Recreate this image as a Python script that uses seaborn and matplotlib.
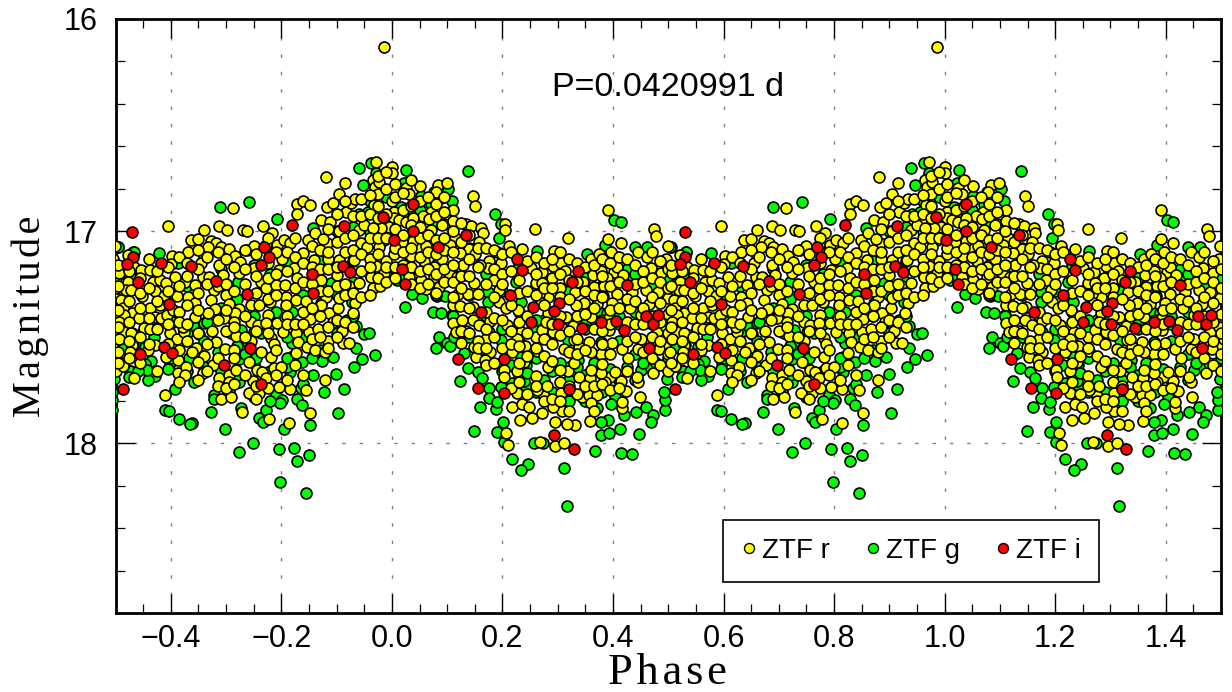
import numpy as np
import pandas as pd
import matplotlib
matplotlib.use('Agg')
import matplotlib.pyplot as plt
import seaborn as sns
from matplotlib.lines import Line2D
from matplotlib.ticker import MultipleLocator, FixedLocator

# folded light curve, values as (phase, magnitude)

period_text = "P=0.0420991 d"
band_names = ["ZTF r", "ZTF g", "ZTF i"]
band_colors = ["#ffff00", "#00ff00", "#ff0000"]

ztf_g = [
    (-0.311,16.884),(-0.258,16.863),(-0.207,16.942),(-0.060,16.703),(-0.038,16.681),(0.026,16.710),(-0.053,16.783),
    (0.022,16.772),(-0.422,17.102),(-0.496,17.074),(-0.143,16.984),(-0.279,17.239),(-0.298,17.253),(0.023,17.356),
    (0.037,17.298),(-0.050,17.487),(-0.041,17.479),(-0.065,17.447),(-0.082,17.419),(-0.065,17.553),(-0.031,17.584),
    (-0.054,17.603),(-0.068,17.642),(-0.086,17.743),(-0.101,17.675),(-0.142,17.680),(-0.106,17.592),(-0.126,17.611),
    (-0.123,17.758),(-0.097,17.859),(-0.148,17.915),(-0.196,17.934),(-0.150,18.057),(-0.172,18.083),(-0.177,18.022),
    (-0.205,18.027),(-0.202,18.184),(-0.155,18.234),(-0.252,17.999),(-0.277,18.039),(-0.301,17.931),(-0.362,17.903),
    (-0.366,17.911),(-0.386,17.884),(-0.411,17.843),(-0.404,17.846),(-0.392,17.746),(-0.328,17.854),(-0.321,17.772),
    (-0.321,17.793),(-0.273,17.835),(-0.240,17.882),(-0.234,17.898),(-0.227,17.843),(-0.210,17.772),(-0.198,17.796),
    (-0.202,17.812),(-0.165,17.741),(-0.172,17.793),(-0.163,17.820),(-0.184,17.662),(-0.163,17.619),(-0.183,17.592),
    (-0.428,17.683),(-0.441,17.702),(-0.474,17.658),(-0.476,17.689),(-0.436,17.611),(-0.447,17.626),(-0.443,17.655),
    (-0.402,17.623),(-0.358,17.710),(-0.367,17.600),(-0.314,17.568),(-0.261,17.521),(-0.276,17.604),(-0.276,17.710),
    (-0.294,17.752),(-0.237,17.482),(-0.249,17.474),(-0.291,17.482),(-0.273,17.466),(-0.360,17.443),(-0.340,17.435),
    (-0.349,17.485),(-0.396,17.427),(-0.429,17.450),(-0.463,17.490),(-0.447,17.545),(-0.181,17.380),(-0.181,17.529),
    (-0.128,17.341),(-0.110,17.246),(-0.079,17.278),(-0.073,17.333),(-0.059,16.917),(-0.044,16.909),(-0.014,17.042),
    (0.010,17.231),(0.017,16.885),(-0.029,16.728),(-0.339,17.121),(-0.387,17.152),(-0.467,17.097),(-0.472,17.215),
    (0.138,16.716),(0.102,16.799),(0.088,16.846),(0.076,16.815),(0.108,16.859),(0.071,16.870),(0.052,16.834),
    (0.187,16.920),(0.197,16.967),(0.194,17.031),(0.262,17.093),(0.191,17.097),(0.402,16.948),(0.414,16.956),
    (0.385,17.066),(0.353,17.108),(0.440,17.077),(0.462,17.077),(0.428,17.174),(0.437,17.215),(0.505,17.074),
    (0.532,17.097),(0.055,17.314),(0.082,17.306),(0.097,17.306),(0.074,17.380),(0.089,17.388),(0.109,17.396),
    (0.174,17.286),(0.174,17.333),(0.224,17.239),(0.233,17.333),(0.085,17.498),(0.080,17.553),(0.100,17.529),
    (0.105,17.540),(0.131,17.573),(0.112,17.498),(0.137,17.647),(0.155,17.663),(0.163,17.694),(0.124,17.706),
    (0.176,17.741),(0.197,17.733),(0.217,17.714),(0.243,17.730),(0.239,17.705),(0.175,17.788),(0.159,17.831),
    (0.188,17.840),(0.191,17.804),(0.201,17.898),(0.149,17.942),(0.190,17.948),(0.202,17.992),(0.218,18.075),
    (0.247,18.097),(0.234,18.126),(0.257,18.000),(0.274,18.000),(0.312,18.115),(0.316,18.295),(0.368,18.035),
    (0.415,18.047),(0.435,18.050),(0.447,17.956),(0.413,17.934),(0.378,17.961),(0.393,17.950),(0.391,17.890),
    (0.372,17.832),(0.378,17.898),(0.404,17.783),(0.396,17.815),(0.420,17.867),(0.442,17.851),(0.460,17.831),
    (0.472,17.868),(0.468,17.898),(0.494,17.843),(0.494,17.796),(0.493,17.760),(0.498,17.699),(0.526,17.658),
    (0.451,17.655),(0.469,17.647),(0.478,17.623),(0.464,17.584),(0.321,17.702),(0.337,17.608),(0.378,17.521),
    (0.318,17.513),(0.233,17.592),(0.242,17.631),(0.197,17.513),(0.176,17.474),(0.276,17.419),(0.378,17.388),
    (0.390,17.388),(0.523,17.466),
    # the ones mostly hidden inside the crowd
    (-0.49,17.30),(-0.49,17.55),(-0.46,17.38),(-0.46,17.66),(-0.43,17.24),(-0.43,17.50),(-0.40,17.30),(-0.40,17.60),
    (-0.37,17.26),(-0.37,17.48),(-0.37,17.66),(-0.34,17.22),(-0.34,17.52),(-0.34,17.64),(-0.31,17.18),(-0.31,17.36),
    (-0.31,17.66),(-0.31,17.70),(-0.28,17.32),(-0.28,17.54),(-0.28,17.68),(-0.25,17.16),(-0.25,17.40),(-0.25,17.62),
    (-0.25,17.78),(-0.22,17.20),(-0.22,17.44),(-0.22,17.66),(-0.22,17.80),(-0.19,17.14),(-0.19,17.50),(-0.19,17.64),
    (-0.16,17.30),(-0.16,17.50),(-0.16,17.72),(-0.13,17.14),(-0.13,17.40),(-0.13,17.56),(-0.10,17.00),(-0.10,17.30),
    (-0.10,17.48),(-0.07,16.98),(-0.07,17.14),(-0.07,17.24),(-0.07,17.40),(-0.04,16.86),(-0.04,17.00),(-0.04,17.20),
    (-0.01,16.84),(-0.01,17.00),(-0.01,17.20),(0.02,16.92),(0.02,17.06),(0.02,17.22),(0.05,16.90),(0.05,17.00),
    (0.05,17.24),(0.08,16.96),(0.08,17.16),(0.08,17.30),(0.11,17.04),(0.11,17.20),(0.11,17.40),(0.14,17.08),
    (0.14,17.30),(0.14,17.50),(0.17,17.20),(0.17,17.40),(0.17,17.60),(0.20,17.28),(0.20,17.46),(0.20,17.66),
    (0.23,17.16),(0.23,17.38),(0.23,17.50),(0.23,17.68),(0.26,17.26),(0.26,17.46),(0.26,17.60),(0.26,17.76),
    (0.29,17.22),(0.29,17.48),(0.29,17.66),(0.29,17.76),(0.32,17.28),(0.32,17.42),(0.32,17.64),(0.32,17.80),
    (0.35,17.22),(0.35,17.44),(0.35,17.68),(0.35,17.80),(0.38,17.26),(0.38,17.42),(0.38,17.58),(0.38,17.76),
    (0.41,17.20),(0.41,17.40),(0.41,17.52),(0.41,17.70),(0.44,17.20),(0.44,17.38),(0.44,17.58),(0.44,17.70),
    (0.47,17.26),(0.47,17.44),(0.47,17.56),(0.50,17.22),(0.50,17.42),(0.50,17.60),
    (0.215,17.63),(0.245,17.67),(0.275,17.70),(0.305,17.62),(0.335,17.64),(0.365,17.62),(0.395,17.65),(0.425,17.64),
    (0.455,17.62),(-0.265,17.58),(-0.245,17.60),(-0.19,17.60),(-0.145,17.60),(-0.35,17.58),(-0.405,17.65),(-0.335,17.43),
    (-0.21,17.38),(0.26,17.42),(0.35,17.46),(0.41,17.44),
]

ztf_r = [
    (-0.014,16.132),(-0.493,17.199),(-0.490,17.325),(-0.487,17.364),(-0.484,17.396),(-0.493,17.427),(-0.484,17.474),
    (-0.472,17.482),(-0.493,17.510),(-0.496,17.568),(-0.471,17.537),(-0.474,17.568),(-0.487,17.636),(-0.466,17.694),
    (-0.478,17.113),(-0.466,17.168),(-0.454,17.181),(-0.478,17.239),(-0.481,17.278),(-0.472,17.278),(-0.457,17.411),
    (-0.448,17.458),(-0.437,17.184),(-0.433,17.242),(-0.420,17.231),(-0.408,17.243),(-0.452,17.305),(-0.428,17.283),
    (-0.413,17.305),(-0.437,17.360),(-0.420,17.349),(-0.438,17.462),(-0.428,17.403),(-0.417,17.411),(-0.407,17.396),
    (-0.428,17.537),(-0.441,17.561),(-0.417,17.160),(-0.405,16.976),(-0.411,17.772),(-0.398,17.118),(-0.399,17.157),
    (-0.392,17.215),(-0.389,17.306),(-0.396,17.372),(-0.402,17.479),(-0.389,17.507),(-0.376,17.474),(-0.378,17.451),
    (-0.408,17.592),(-0.387,17.608),(-0.387,17.670),(-0.372,17.639),(-0.375,17.678),(-0.368,17.097),(-0.363,17.042),
    (-0.350,17.039),(-0.375,17.239),(-0.357,17.254),(-0.368,17.309),(-0.357,17.341),(-0.356,17.403),(-0.342,17.215),
    (-0.345,17.152),(-0.330,17.215),(-0.339,16.995),(-0.312,16.976),(-0.298,16.995),(-0.287,16.893),(-0.327,17.046),
    (-0.318,17.055),(-0.332,17.077),(-0.310,17.074),(-0.294,17.082),(-0.313,17.160),(-0.306,17.207),(-0.321,17.278),
    (-0.327,17.325),(-0.300,17.301),(-0.294,17.344),(-0.320,17.369),(-0.333,17.388),(-0.304,17.411),(-0.325,17.469),
    (-0.318,17.521),(-0.354,17.553),(-0.362,17.568),(-0.339,17.589),(-0.350,17.615),(-0.342,17.667),(-0.324,17.631),
    (-0.301,17.557),(-0.312,17.694),(-0.294,17.678),(-0.282,17.655),(-0.310,17.790),(-0.291,17.782),(-0.294,17.710),
    (-0.259,17.765),(-0.271,17.851),(-0.284,17.118),(-0.274,17.144),(-0.276,17.199),(-0.270,16.995),(-0.263,16.998),
    (-0.262,17.089),(-0.250,17.071),(-0.249,17.176),(-0.237,17.242),(-0.276,17.367),(-0.283,17.388),(-0.285,17.427),
    (-0.282,17.495),(-0.255,17.430),(-0.243,17.443),(-0.254,17.349),(-0.240,17.349),(-0.228,17.270),(-0.225,17.396),
    (-0.220,17.336),(-0.227,17.435),(-0.207,17.435),(-0.218,17.506),(-0.214,17.532),(-0.197,17.474),(-0.237,17.568),
    (-0.254,17.517),(-0.258,17.615),(-0.219,17.595),(-0.244,17.655),(-0.235,17.663),(-0.214,17.647),(-0.228,17.694),
    (-0.201,17.639),(-0.251,17.705),(-0.240,17.765),(-0.205,17.733),(-0.185,17.746),(-0.155,17.749),(-0.222,17.887),
    (-0.186,17.903),(-0.148,17.859),(-0.233,16.976),(-0.216,17.011),(-0.228,17.066),(-0.207,17.066),(-0.196,17.042),
    (-0.184,17.058),(-0.199,17.132),(-0.205,17.181),(-0.177,17.176),(-0.172,17.223),(-0.209,17.254),(-0.193,17.254),
    (-0.191,17.309),(-0.191,17.349),(-0.173,17.325),(-0.193,17.403),(-0.156,17.328),(-0.148,17.416),(-0.173,17.482),
    (-0.170,17.521),(-0.154,17.545),(-0.174,17.573),(-0.150,17.474),(-0.133,17.462),(-0.139,17.561),(-0.121,17.568),
    (-0.115,17.517),(-0.172,16.870),(-0.161,16.857),(-0.148,16.878),(-0.172,16.920),(-0.160,17.105),(-0.152,17.042),
    (-0.141,17.137),(-0.139,17.011),(-0.128,16.948),(-0.117,17.058),(-0.125,17.035),(-0.115,17.133),(-0.112,16.959),
    (-0.117,16.885),(-0.106,16.867),(-0.096,16.823),(-0.085,16.775),(-0.119,16.744),(-0.128,17.231),(-0.120,17.309),
    (-0.128,17.349),(-0.113,17.388),(-0.107,17.427),(-0.097,17.364),(-0.095,17.317),(-0.100,17.207),(-0.095,17.137),
    (-0.095,17.000),(-0.083,16.909),(-0.074,16.867),(-0.067,16.849),(-0.077,17.259),(-0.068,17.137),(-0.060,17.246),
    (-0.067,17.338),(-0.071,17.388),(-0.091,17.469),(-0.088,17.529),(-0.078,17.529),(-0.121,17.702),(-0.060,16.995),
    (-0.050,16.972),(-0.055,17.058),(-0.045,17.074),(-0.033,16.878),(-0.035,16.760),(-0.029,16.675),(-0.031,16.794),
    (-0.025,16.823),(-0.023,16.768),(0.000,16.697),(0.001,16.728),(0.025,16.796),(0.031,16.827),(0.000,16.857),
    (0.004,16.909),(0.004,16.940),(0.013,16.948),(0.025,16.956),(-0.006,16.980),(-0.020,16.983),(-0.035,16.983),
    (-0.023,17.074),(-0.011,17.140),(0.004,17.108),(-0.029,17.163),(-0.014,17.199),(-0.038,17.215),(-0.035,17.267),
    (-0.021,17.257),(0.031,17.113),(0.034,17.050),(0.046,17.074),(0.046,17.223),(0.031,17.215),
    (0.051,16.788),(0.083,16.783),(0.099,16.775),(0.079,16.815),(0.070,16.909),(0.057,16.929),(0.067,16.945),
    (0.094,16.964),(0.111,16.901),(0.111,16.951),(0.146,16.834),(0.151,16.881),(0.134,16.967),(0.144,16.976),
    (0.161,16.987),(0.164,17.011),(0.204,16.967),(0.205,16.995),(0.259,16.992),(0.319,17.031),(0.391,16.898),
    (0.391,17.035),(0.414,17.055),(0.396,17.097),(0.474,16.992),(0.478,17.024),(0.499,17.069),(0.445,17.097),
    (0.461,17.124),(0.496,17.133),(0.360,17.129),(0.374,17.108),(0.294,17.093),(0.304,17.097),(0.236,17.082),
    (0.211,17.071),(0.039,16.940),(0.071,16.995),(0.091,16.972),(0.115,17.030),(0.106,17.066),(0.061,17.071),
    (0.039,17.046),(0.019,17.050),(0.140,17.082),(0.123,17.102),(0.158,17.050),(0.150,17.108),(0.176,17.140),
    (0.173,17.176),(0.160,17.160),(0.197,17.149),(0.128,17.160),(0.091,17.129),(0.076,17.171),(0.059,17.140),
    (0.034,17.118),(0.052,17.228),(0.077,17.218),(0.103,17.199),(0.118,17.218),(0.149,17.246),(0.184,17.231),
    (0.061,17.275),(0.085,17.262),(0.120,17.294),(0.137,17.294),(0.155,17.297),(0.193,17.278),(0.194,17.333),
    (0.206,17.364),(0.111,17.349),(0.124,17.353),(0.147,17.356),(0.228,17.372),(0.177,17.422),(0.146,17.419),
    (0.111,17.435),(0.126,17.419),(0.208,17.443),(0.116,17.474),(0.135,17.471),(0.158,17.443),(0.234,17.477),
    (0.125,17.526),(0.170,17.509),(0.149,17.545),(0.177,17.568),(0.152,17.595),(0.169,17.608),(0.218,17.571),
    (0.241,17.540),(0.227,17.510),(0.202,17.655),(0.203,17.686),(0.239,17.619),(0.227,17.659),(0.260,17.683),
    (0.226,17.761),(0.217,17.827),(0.235,17.816),(0.248,17.827),(0.231,17.890),(0.253,17.879),(0.271,17.859),
    (0.276,17.777),(0.262,17.749),(0.280,17.730),(0.207,17.953),(0.210,18.008),(0.268,17.992),(0.295,18.013),
    (0.312,17.997),(0.295,17.898),(0.331,17.914),(0.316,17.909),(0.307,17.849),(0.292,17.827),(0.306,17.765),
    (0.344,17.783),(0.357,17.772),(0.372,17.774),(0.360,17.812),(0.358,17.895),(0.417,17.835),(0.417,17.804),
    (0.423,17.752),(0.448,17.780),(0.445,17.710),(0.443,17.686),(0.414,17.705),(0.395,17.686),(0.385,17.710),
    (0.359,17.694),(0.339,17.689),(0.318,17.658),(0.304,17.655),(0.282,17.639),(0.379,17.670),(0.361,17.655),
    (0.404,17.663),(0.472,17.670),(0.513,17.636),(0.428,17.600),(0.445,17.557),(0.416,17.556),(0.379,17.579),
    (0.360,17.568),(0.380,17.628),(0.329,17.623),(0.312,17.557),(0.330,17.513),(0.339,17.545),(0.357,17.521),
    (0.262,17.565),(0.260,17.498),(0.272,17.466),(0.292,17.477),(0.399,17.526),(0.393,17.466),(0.451,17.510),
    (0.495,17.545),(0.484,17.557),(0.506,17.509),(0.529,17.482),(0.531,17.537),(0.480,17.477),(0.251,17.176),
    (0.271,17.192),(0.289,17.220),(0.292,17.165),(0.306,17.152),(0.314,17.187),(0.260,17.246),(0.272,17.243),
    (0.304,17.270),(0.283,17.309),(0.266,17.298),(0.282,17.388),(0.269,17.341),(0.332,17.286),(0.345,17.239),
    (0.363,17.207),(0.379,17.187),(0.402,17.192),(0.407,17.168),(0.390,17.223),(0.365,17.265),(0.384,17.259),
    (0.382,17.305),(0.407,17.294),(0.434,17.289),(0.419,17.207),(0.348,17.338),(0.334,17.349),(0.372,17.345),
    (0.398,17.338),(0.431,17.364),(0.361,17.403),(0.328,17.447),(0.393,17.411),(0.279,17.427),(0.315,17.403),
    (0.468,17.176),(0.486,17.196),(0.510,17.195),(0.466,17.344),(0.451,17.393),(0.481,17.286),(0.460,17.278),
    (0.527,17.254),(0.499,17.317),(0.514,17.356),(0.529,17.388),(0.496,17.451),
    # rough estimates for the crowded middle, single circles can't be told apart there
    (-0.495,17.16),(-0.495,17.26),(-0.495,17.37),(-0.495,17.45),(-0.495,17.62),(-0.475,17.19),(-0.475,17.33),(-0.475,17.43),
    (-0.475,17.52),(-0.475,17.60),(-0.455,17.22),(-0.455,17.29),(-0.455,17.36),(-0.455,17.50),(-0.455,17.62),(-0.44,17.13),
    (-0.44,17.27),(-0.44,17.41),(-0.44,17.53),(-0.425,17.19),(-0.425,17.33),(-0.425,17.46),
    (-0.425,17.66),(-0.405,17.17),(-0.405,17.28),(-0.405,17.44),(-0.405,17.53),(-0.385,17.12),(-0.385,17.26),
    (-0.385,17.38),(-0.385,17.43),(-0.385,17.56),(-0.385,17.71),(-0.37,17.15),(-0.37,17.21),(-0.37,17.35),(-0.37,17.44),
    (-0.37,17.52),(-0.35,17.09),(-0.35,17.18),(-0.35,17.29),(-0.35,17.37),(-0.35,17.48),
    (-0.35,17.70),(-0.335,17.12),(-0.335,17.25),(-0.335,17.53),(-0.335,17.66),(-0.315,17.10),(-0.315,17.26),
    (-0.315,17.42),(-0.315,17.60),(-0.315,17.73),(-0.30,17.13),(-0.30,17.25),(-0.30,17.37),(-0.30,17.47),
    (-0.30,17.74),(-0.285,17.17),(-0.285,17.28),(-0.285,17.45),(-0.285,17.56),(-0.285,17.60),(-0.285,17.72),(-0.265,17.09),
    (-0.265,17.18),(-0.265,17.25),(-0.265,17.40),(-0.265,17.50),(-0.265,17.68),(-0.245,17.11),(-0.245,17.21),
    (-0.245,17.29),(-0.245,17.47),(-0.245,17.73),(-0.245,17.79),(-0.225,17.03),(-0.225,17.15),(-0.225,17.22),
    (-0.225,17.32),(-0.225,17.48),(-0.225,17.74),(-0.21,17.10),(-0.21,17.20),(-0.21,17.30),
    (-0.21,17.56),(-0.21,17.68),(-0.19,17.10),(-0.19,17.19),(-0.19,17.40),(-0.19,17.44),(-0.19,17.70),
    (-0.175,17.03),(-0.175,17.12),(-0.175,17.27),(-0.175,17.44),(-0.175,17.63),(-0.16,17.15),(-0.16,17.24),
    (-0.16,17.38),(-0.16,17.44),(-0.16,17.68),(-0.145,17.07),(-0.145,17.17),(-0.145,17.25),(-0.145,17.36),
    (-0.145,17.51),(-0.13,17.09),(-0.13,17.18),(-0.13,17.28),(-0.13,17.40),(-0.13,17.50),
    (-0.115,16.99),(-0.115,17.10),(-0.115,17.18),(-0.115,17.28),(-0.115,17.45),(-0.115,17.55),(-0.10,16.92),(-0.10,17.05),
    (-0.10,17.17),(-0.10,17.26),(-0.10,17.42),(-0.10,17.50),(-0.085,16.86),(-0.085,17.03),(-0.085,17.10),(-0.085,17.25),
    (-0.085,17.30),(-0.085,17.43),(-0.07,16.93),(-0.07,17.02),(-0.07,17.09),(-0.07,17.29),(-0.07,17.45),
    (-0.055,16.85),(-0.055,16.93),(-0.055,17.11),(-0.055,17.19),(-0.055,17.31),(-0.04,16.83),(-0.04,16.92),(-0.04,17.03),
    (-0.04,17.13),(-0.04,17.17),(-0.04,17.30),(-0.025,16.74),(-0.025,16.88),(-0.025,16.94),(-0.025,17.03),(-0.025,17.11),
    (-0.025,17.22),(-0.01,16.72),(-0.01,16.80),(-0.01,16.92),(-0.01,17.03),(-0.01,17.17),(-0.01,17.24),
    (0.005,16.78),(0.005,16.84),(0.005,16.99),(0.005,17.08),(0.005,17.17),(0.005,17.22),(0.02,16.82),(0.02,16.90),
    (0.02,17.02),(0.02,17.10),(0.02,17.16),(0.035,16.76),(0.035,16.88),(0.035,16.97),(0.035,17.08),(0.035,17.17),
    (0.035,17.25),(0.05,16.86),(0.05,16.98),(0.05,17.03),(0.05,17.12),(0.05,17.19),(0.05,17.27),(0.065,16.84),
    (0.065,17.02),(0.065,17.10),(0.065,17.18),(0.065,17.25),(0.08,16.87),(0.08,16.93),(0.08,17.04),(0.08,17.11),
    (0.08,17.20),(0.08,17.29),(0.095,16.84),(0.095,16.91),(0.095,17.03),(0.095,17.09),(0.095,17.18),(0.095,17.24),
    (0.11,17.00),(0.11,17.10),(0.11,17.16),(0.11,17.24),(0.11,17.31),(0.125,16.96),(0.125,17.05),(0.125,17.21),
    (0.125,17.27),(0.125,17.47),(0.14,17.02),(0.14,17.13),(0.14,17.21),(0.14,17.36),(0.14,17.48),
    (0.155,17.08),(0.155,17.17),(0.155,17.52),(0.155,17.55),(0.17,17.08),(0.17,17.25),(0.17,17.38),
    (0.17,17.46),(0.17,17.55),(0.17,17.63),(0.185,17.09),(0.185,17.18),(0.185,17.31),(0.185,17.41),(0.185,17.50),
    (0.185,17.62),(0.20,17.11),(0.20,17.20),(0.20,17.25),(0.20,17.42),(0.20,17.55),
    (0.215,17.10),(0.215,17.19),(0.215,17.35),(0.215,17.47),(0.215,17.53),(0.215,17.74),(0.23,17.23),
    (0.23,17.29),(0.23,17.43),(0.23,17.54),(0.23,17.62),(0.23,17.71),(0.245,17.14),(0.245,17.28),(0.245,17.40),
    (0.245,17.48),(0.245,17.59),(0.245,17.77),(0.26,17.12),(0.26,17.20),(0.26,17.30),
    (0.26,17.55),(0.26,17.73),(0.275,17.15),(0.275,17.27),(0.275,17.35),(0.275,17.51),(0.275,17.59),
    (0.275,17.80),(0.29,17.13),(0.29,17.27),(0.29,17.44),(0.29,17.53),(0.29,17.61),
    (0.29,17.79),(0.305,17.20),(0.305,17.31),(0.305,17.40),(0.305,17.49),(0.305,17.71),(0.305,17.80),
    (0.32,17.13),(0.32,17.23),(0.32,17.32),(0.32,17.47),(0.32,17.57),(0.32,17.73),(0.32,17.85),
    (0.335,17.15),(0.335,17.24),(0.335,17.40),(0.335,17.51),(0.335,17.58),(0.335,17.77),(0.35,17.17),
    (0.35,17.28),(0.35,17.39),(0.35,17.56),(0.35,17.73),(0.365,17.16),(0.365,17.30),
    (0.365,17.36),(0.365,17.46),(0.365,17.73),(0.365,17.85),(0.38,17.13),(0.38,17.21),(0.38,17.31),
    (0.38,17.47),(0.38,17.53),(0.38,17.72),(0.395,17.15),(0.395,17.26),(0.395,17.37),(0.395,17.44),(0.395,17.58),
    (0.395,17.75),(0.41,17.12),(0.41,17.24),(0.41,17.36),(0.41,17.74),
    (0.425,17.13),(0.425,17.32),(0.425,17.43),(0.425,17.52),(0.425,17.66),(0.44,17.16),(0.44,17.25),
    (0.44,17.33),(0.44,17.44),(0.44,17.50),(0.455,17.19),(0.455,17.24),(0.455,17.36),(0.455,17.44),
    (0.455,17.57),(0.47,17.10),(0.47,17.22),(0.47,17.31),(0.47,17.40),(0.47,17.50),(0.47,17.60),
    (0.485,17.14),(0.485,17.24),(0.485,17.34),(0.485,17.43),(0.485,17.52),(0.485,17.63),(0.50,17.18),(0.50,17.27),
    (0.50,17.39),(0.50,17.48),(0.50,17.58),(0.50,17.66),
]

ztf_i = [
    (-0.470,17.006),(-0.469,17.124),(-0.479,17.157),(-0.417,17.149),(-0.364,17.165),(-0.460,17.242),(-0.318,17.236),
    (-0.263,17.294),(-0.404,17.344),(-0.231,17.077),(-0.223,17.124),(-0.237,17.159),(-0.180,16.973),(-0.145,17.203),
    (-0.142,17.290),(-0.089,17.165),(-0.076,17.193),(-0.086,16.976),(-0.016,16.932),(0.038,16.873),(0.038,17.000),
    (0.003,17.044),(0.018,17.179),(0.024,17.248),(-0.455,17.578),(-0.412,17.546),(-0.398,17.575),(-0.256,17.553),
    (-0.303,17.630),(-0.236,17.722),(-0.487,17.744),(0.083,17.077),(0.135,17.020),(0.227,17.133),(0.235,17.181),
    (0.214,17.300),(0.256,17.356),(0.161,17.382),(0.251,17.430),(0.303,17.339),(0.294,17.377),(0.301,17.440),
    (0.344,17.458),(0.336,17.187),(0.326,17.239),(0.379,17.429),(0.406,17.424),(0.420,17.465),(0.425,17.253),
    (0.459,17.399),(0.472,17.440),(0.482,17.393),(0.466,17.550),(0.120,17.604),(0.203,17.601),
    (0.156,17.738),(0.202,17.763),(0.320,17.746),(0.294,17.961),(0.329,18.027),
]

x_major = [-0.4, -0.2, 0.0, 0.2, 0.4, 0.6, 0.8, 1.0, 1.2, 1.4]
y_major = [16, 17, 18]


def fold(points, name):
    # the phase is shown twice, so every point comes back one cycle later
    df = pd.DataFrame(points, columns=['phase', 'mag'])
    parts = [df.assign(phase=df['phase'] + shift) for shift in (-1, 0, 1)]
    out = pd.concat(parts, ignore_index=True)
    out['band'] = name
    return out


sns.set_style("white")
plt.rcParams['font.family'] = ['Liberation Sans', 'DejaVu Sans']
plt.rcParams['text.color'] = 'black'
plt.rcParams['xtick.color'] = 'black'
plt.rcParams['ytick.color'] = 'black'

fig = plt.figure(figsize=(12.32, 6.92), dpi=100)
ax = fig.add_axes([115.5 / 1232, 1 - 613 / 692, 1105.5 / 1232, 594 / 692])

# green goes under yellow, red stays on top
draw_order = [(ztf_g, 1), (ztf_r, 0), (ztf_i, 2)]
for pts, idx in draw_order:
    sns.scatterplot(data=fold(pts, band_names[idx]), x='phase', y='mag', color=band_colors[idx],
                    edgecolor='black', linewidth=1.2, s=62, zorder=3, clip_on=True, legend=False, ax=ax)

ax.set_xlim(-0.5, 1.5)
ax.set_ylim(18.8, 16)
ax.xaxis.set_major_locator(FixedLocator(x_major))
ax.xaxis.set_minor_locator(MultipleLocator(0.05))
ax.yaxis.set_major_locator(FixedLocator(y_major))
ax.yaxis.set_minor_locator(MultipleLocator(0.2))
ax.tick_params(which='major', direction='in', top=True, right=True, bottom=True, left=True,
               length=13.5, width=1.0, labelsize=22, pad=8)
ax.tick_params(which='minor', direction='in', top=True, right=True, bottom=True, left=True,
               length=6.5, width=0.9)
ax.tick_params(axis='y', which='major', pad=13)
ax.grid(True, which='major', color='#808080', linewidth=1.0, linestyle=(0, (2.5, 10)))
ax.set_axisbelow(True)
for side in ax.spines.values():
    side.set_linewidth(2.0)
    side.set_color('black')

ax.set_xlabel('')
ax.set_ylabel('')
fig.text(667 / 1232, 1 - 673 / 692, 'P\u200ah\u200aa\u200as\u200ae', family=['Liberation Serif', 'DejaVu Serif'],
         fontsize=32, ha='center', va='center')
fig.text(30 / 1232, 1 - 316 / 692, 'M\u200aa\u200ag\u200an\u200ai\u200at\u200au\u200ad\u200ae',
         family=['Liberation Serif', 'DejaVu Serif'], fontsize=29, rotation=90, ha='center', va='center')
ax.text(0.4998, 0.885, period_text, transform=ax.transAxes, fontsize=24.5, ha='center', va='center')

handles = [Line2D([], [], linestyle='none', marker='o', markersize=7.2, markerfacecolor=c,
                  markeredgecolor='black', markeredgewidth=1.0) for c in band_colors]
leg = fig.legend(handles, band_names, ncol=3, loc='lower left', fontsize=20, mode='expand',
                 bbox_to_anchor=(722.5 / 1232, 1 - 581.5 / 692, 376.5 / 1232, 63 / 692),
                 bbox_transform=fig.transFigure, frameon=True, fancybox=False, framealpha=1,
                 edgecolor='black', borderpad=0.64, handlelength=0.6, handletextpad=0.19,
                 columnspacing=1.0, borderaxespad=0)
leg.get_frame().set_linewidth(1.2)
leg.set_zorder(10)

fig.savefig('out.png', dpi=100)
plt.close(fig)
